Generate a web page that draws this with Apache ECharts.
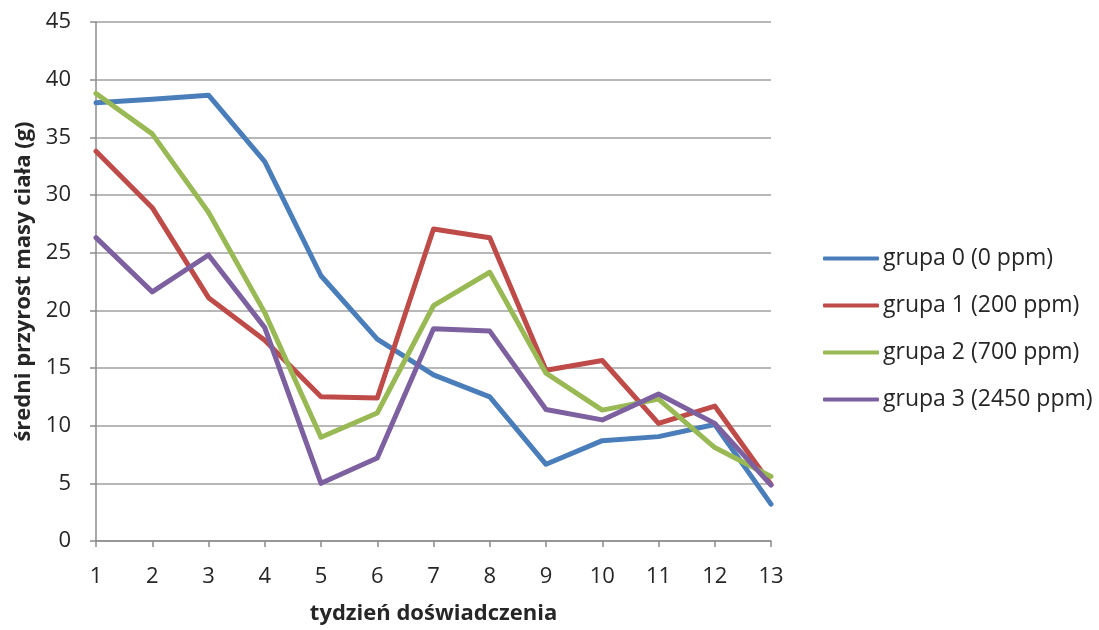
<!DOCTYPE html>
<html>
<head>
<meta charset="utf-8">
<script src="https://cdn.jsdelivr.net/npm/echarts@6/dist/echarts.min.js"></script>
<style>
  html, body { margin: 0; padding: 0; background: #ffffff; }
  #chart { width: 1099px; height: 630px; }
</style>
</head>
<body>
<div id="chart"></div>
<script>
// Weeks of the experiment
const weeks = ['1', '2', '3', '4', '5', '6', '7', '8', '9', '10', '11', '12', '13'];

// Mean body-mass gain (g) per group
const grupa0 = [38.0, 38.3, 38.65, 32.9, 23.0, 17.5, 14.4, 12.5, 6.65, 8.7, 9.05, 10.1, 3.2];
const grupa1 = [33.8, 28.9, 21.1, 17.4, 12.5, 12.4, 27.05, 26.3, 14.8, 15.65, 10.2, 11.7, 4.9];
const grupa2 = [38.8, 35.3, 28.5, 19.8, 9.0, 11.1, 20.4, 23.3, 14.55, 11.35, 12.3, 8.1, 5.6];
const grupa3 = [26.3, 21.6, 24.8, 18.5, 5.0, 7.2, 18.4, 18.2, 11.4, 10.5, 12.75, 10.2, 4.85];

const seriesNames = ['grupa 0 (0 ppm)', 'grupa 1 (200 ppm)', 'grupa 2 (700 ppm)', 'grupa 3 (2450 ppm)'];
const seriesColors = ['#4a7ebb', '#be4b48', '#98b954', '#7d60a0'];
const seriesData = [grupa0, grupa1, grupa2, grupa3];

const FONT = '"Open Sans", "Noto Sans", sans-serif';
const TEXT = '#262626';

const chart = echarts.init(document.getElementById('chart'), null, { renderer: 'canvas' });

chart.setOption({
  animation: false,
  backgroundColor: '#ffffff',
  textStyle: { fontFamily: FONT },
  grid: { left: 96, right: 328, top: 22, bottom: 89, containLabel: false, outerBoundsMode: 'none' },
  legend: {
    orient: 'vertical',
    left: 818,
    top: 240,
    itemWidth: 56,
    itemHeight: 4,
    itemGap: 20,
    icon: 'roundRect',
    textStyle: { fontFamily: FONT, fontSize: 23, lineHeight: 27, color: TEXT, padding: [0, 0, 0, -1] },
    data: seriesNames
  },
  xAxis: {
    type: 'category',
    data: weeks,
    boundaryGap: false,
    name: 'tydzień doświadczenia',
    nameLocation: 'middle',
    nameGap: 62,
    nameTextStyle: { fontFamily: FONT, fontSize: 22, fontWeight: 'bold', color: TEXT },
    axisLine: { lineStyle: { color: '#8c8c8c', width: 1.5 } },
    axisTick: { show: true, length: 6, lineStyle: { color: '#8c8c8c', width: 1.5 } },
    axisLabel: { fontSize: 22, color: TEXT, margin: 25 },
    splitLine: { show: false }
  },
  yAxis: {
    type: 'value',
    min: 0,
    max: 45,
    interval: 5,
    name: 'średni przyrost masy ciała (g)',
    nameLocation: 'middle',
    nameRotate: 90,
    nameGap: 61,
    nameTextStyle: { fontFamily: FONT, fontSize: 22, fontWeight: 'bold', color: TEXT },
    axisLine: { show: true, lineStyle: { color: '#8c8c8c', width: 1.5 } },
    axisTick: { show: true, length: 6, lineStyle: { color: '#8c8c8c', width: 1.5 } },
    axisLabel: { fontSize: 22, color: TEXT, margin: 25 },
    splitLine: { show: true, lineStyle: { color: '#a0a0a0', width: 1.5 } }
  },
  series: seriesData.map((d, i) => ({
    name: seriesNames[i],
    type: 'line',
    data: d,
    symbol: 'none',
    color: seriesColors[i],
    lineStyle: { width: 5, color: seriesColors[i], join: 'round', cap: 'round' },
    itemStyle: { color: seriesColors[i] }
  }))
});
</script>
</body>
</html>
